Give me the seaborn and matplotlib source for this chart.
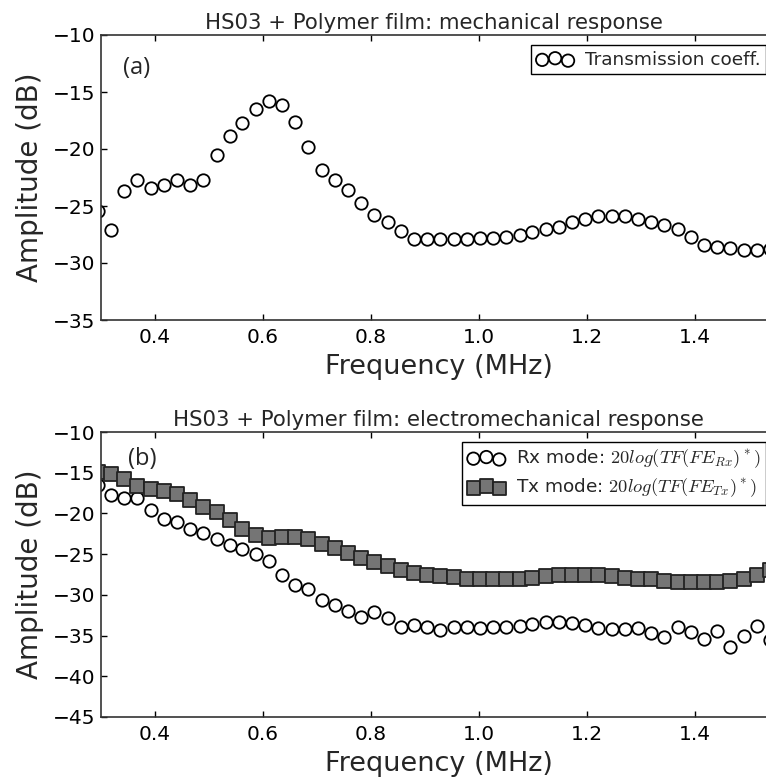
"""
HS03 + polymer film: mechanical and electromechanical response
Two stacked scatter panels, amplitude (dB) against frequency (MHz)
"""

## Import packages
import matplotlib
matplotlib.use('Agg')
import matplotlib.pyplot as plt
import seaborn as sns
import pandas as pd


## Data
# Frequency axis shared by both panels (MHz)
freq = [0.294, 0.318, 0.343, 0.367, 0.392, 0.416, 0.440, 0.465, 0.489, 0.514,
        0.538, 0.562, 0.587, 0.611, 0.636, 0.660, 0.684, 0.709, 0.733, 0.758,
        0.782, 0.806, 0.831, 0.855, 0.880, 0.904, 0.928, 0.953, 0.977, 1.002,
        1.026, 1.050, 1.075, 1.099, 1.124, 1.148, 1.172, 1.197, 1.221, 1.246,
        1.270, 1.294, 1.319, 1.343, 1.368, 1.392, 1.416, 1.441, 1.465, 1.490,
        1.514, 1.538]

# Panel (a): transmission coefficient (dB)
transmission = [-25.4, -27.1, -23.7, -22.7, -23.4, -23.2, -22.7, -23.2, -22.7, -20.5,
                -18.9, -17.7, -16.5, -15.8, -16.1, -17.6, -19.8, -21.8, -22.7, -23.6,
                -24.7, -25.8, -26.4, -27.2, -27.9, -27.9, -27.9, -27.9, -27.9, -27.85,
                -27.8, -27.7, -27.55, -27.3, -27.0, -26.8, -26.4, -26.1, -25.9, -25.9,
                -25.9, -26.1, -26.4, -26.7, -27.0, -27.7, -28.4, -28.6, -28.7, -28.9,
                -28.9, -28.8]

# Panel (b): receive mode (dB)
rx_mode = [-16.5, -17.7, -18.1, -18.1, -19.6, -20.7, -21.1, -21.9, -22.4, -23.2,
           -23.9, -24.4, -25.0, -25.9, -27.6, -28.8, -29.3, -30.6, -31.3, -32.0,
           -32.7, -32.1, -32.8, -33.9, -33.7, -33.9, -34.3, -34.0, -34.0, -34.1,
           -34.0, -34.0, -33.8, -33.6, -33.3, -33.3, -33.4, -33.7, -34.1, -34.2,
           -34.2, -34.1, -34.65, -35.2, -33.9, -34.5, -35.45, -34.4, -36.4, -35.05,
           -33.8, -35.6]

# Panel (b): transmit mode (dB)
tx_mode = [-14.9, -15.2, -15.8, -16.6, -17.05, -17.2, -17.6, -18.4, -19.2, -19.8,
           -20.8, -21.95, -22.65, -23.0, -22.95, -22.95, -23.2, -23.8, -24.3, -24.9,
           -25.45, -25.95, -26.4, -26.9, -27.3, -27.5, -27.7, -27.85, -28.0, -28.05,
           -28.05, -28.05, -28.0, -27.9, -27.7, -27.6, -27.5, -27.5, -27.5, -27.7,
           -27.9, -28.1, -28.1, -28.3, -28.45, -28.45, -28.45, -28.4, -28.3, -28.1,
           -27.6, -27.0]

# Tick labels
xticks = [0.4, 0.6, 0.8, 1.0, 1.2, 1.4]
yticks_a = [-35, -30, -25, -20, -15, -10]
yticks_b = [-45, -40, -35, -30, -25, -20, -15, -10]

df = pd.DataFrame({'freq': freq, 'trans': transmission, 'rx': rx_mode, 'tx': tx_mode})


## Figure parameters
tick_size = 14.5
ylabel_size = 20
xlabel_size = 19.5
title_size = 15.3
legend_size = 13.3

sns.set_theme(context='paper', style='ticks')
plt.rcParams['font.family'] = ['DejaVu Sans']
plt.rcParams['mathtext.fontset'] = 'cm'

fig = plt.figure(figsize=(7.66, 7.80), dpi=100)

# Axes reach past the right edge, like the cropped original
left = 101 / 766
width = 675 / 766
ax_a = fig.add_axes([left, 1 - 320 / 780, width, 285 / 780])
ax_b = fig.add_axes([left, 1 - 717 / 780, width, 285 / 780])
xmax = 0.3 + 675 / 540


## PLOT (a)
sns.scatterplot(ax=ax_a, data=df, x='freq', y='trans', marker='o', s=80,
                color='white', edgecolor='black', linewidth=1.3,
                label='Transmission coeff.')
ax_a.set_ylim(-35, -10)
ax_a.set_yticks(yticks_a)
ax_a.set_title('HS03 + Polymer film: mechanical response', fontsize=title_size,
               pad=4, x=0.4926)
ax_a.text(22 / 675, 0.884, '(a)', transform=ax_a.transAxes, fontsize=17,
          family='Open Sans', ha='left', va='center')


## PLOT (b)
sns.scatterplot(ax=ax_b, data=df, x='freq', y='rx', marker='o', s=80,
                color='white', edgecolor='black', linewidth=1.3,
                label=r'Rx mode: $20log(TF(FE_{Rx})^*)$')
sns.scatterplot(ax=ax_b, data=df, x='freq', y='tx', marker='s', s=95,
                color='#757575', edgecolor='#222222', linewidth=1.3,
                label=r'Tx mode: $20log(TF(FE_{Tx})^*)$')
ax_b.set_ylim(-45, -10)
ax_b.set_yticks(yticks_b)
ax_b.set_title('HS03 + Polymer film: electromechanical response', fontsize=title_size, pad=4)
ax_b.text(27 / 675, 0.905, '(b)', transform=ax_b.transAxes, fontsize=17,
          family='Open Sans', ha='left', va='center')


for ax in (ax_a, ax_b):
    ax.set_xlim(0.3, xmax)
    ax.set_xticks(xticks)
    ax.set_xticklabels(['{:.1f}'.format(t) for t in xticks])
    ax.set_xlabel('Frequency (MHz)', fontsize=xlabel_size, labelpad=5)
    ax.set_ylabel('Amplitude (dB)', fontsize=ylabel_size, labelpad=6)
    ax.tick_params(direction='in', top=True, right=True, length=4, width=1,
                   labelsize=tick_size, pad=4, colors='black')
    ax.tick_params(axis='x', pad=6)
    for sp in ax.spines.values():
        sp.set_visible(True)
        sp.set_color('#333333')
        sp.set_linewidth(1.2)
    ax.legend(loc='upper right', fontsize=legend_size, scatterpoints=3,
              scatteryoffsets=[0.375, 0.5, 0.3125], fancybox=False,
              edgecolor='black', framealpha=1, handletextpad=0.6,
              borderpad=0.3, labelspacing=0.35, borderaxespad=0.55)
    ax.get_legend().get_frame().set_linewidth(1.0)

plt.savefig('out.png', dpi=100)
